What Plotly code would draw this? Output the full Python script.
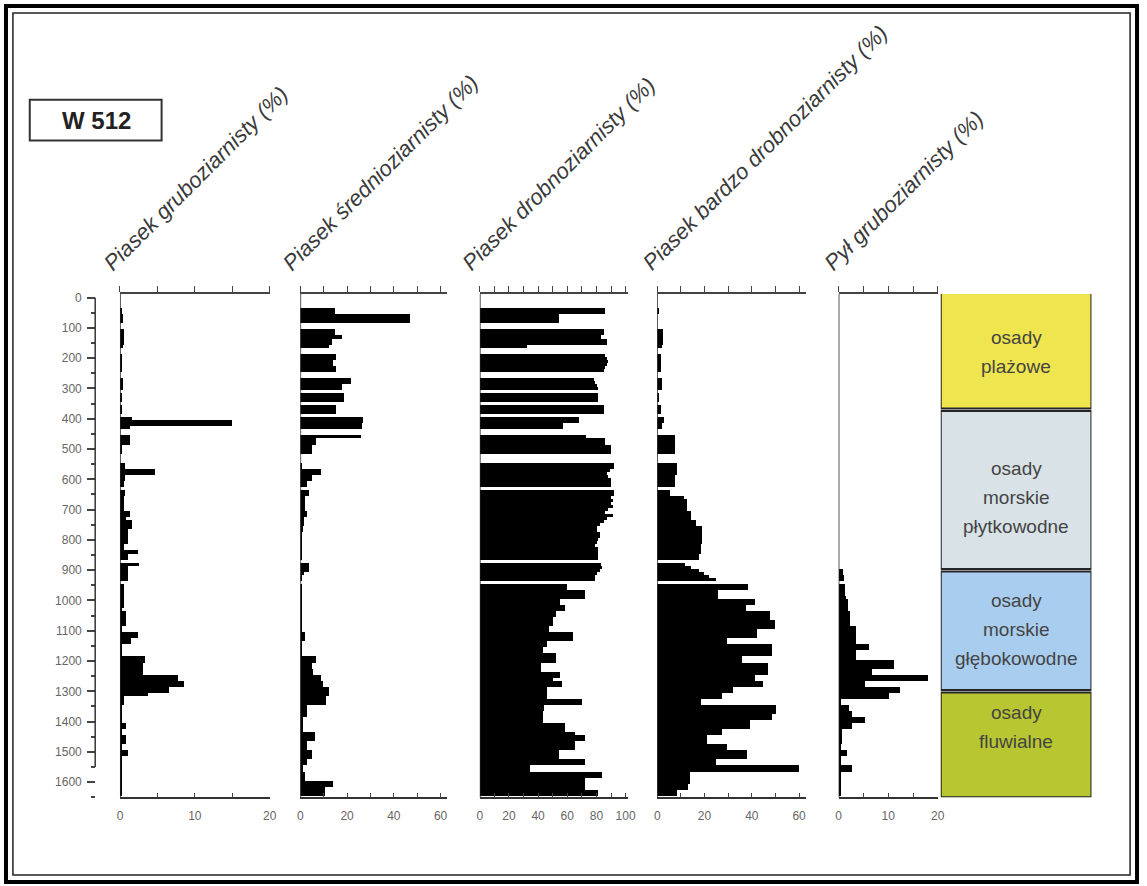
import plotly.graph_objects as go

W, H = 1147, 886

# Sample depths (cm) of the W 512 core; missing samples are simply absent
depth_cm = [
    40, 50, 60, 70, 80,
    110, 120, 130, 140, 150, 160,
    190, 200, 210, 220, 230, 240,
    270, 280, 290, 300,
    320, 330, 340,
    360, 370, 380,
    400, 410, 420, 430,
    460, 470, 480, 490, 500, 510,
    550, 560, 570, 580, 590, 600, 610, 620,
    640, 650,
    660, 670, 680, 690, 700, 710, 720, 730, 740, 750,
    760, 770, 780, 790, 800, 810, 820, 830, 840, 850, 860,
    880, 890, 900, 910, 920, 930,
    950, 960, 970, 980, 990, 1000, 1010, 1020, 1030, 1040,
    1050, 1060, 1070, 1080, 1090, 1100, 1110, 1120, 1130, 1140,
    1150, 1160, 1170, 1180, 1190, 1200, 1210, 1220, 1230, 1240,
    1250, 1260, 1270, 1280, 1290, 1300, 1310, 1320, 1330, 1340,
    1350, 1360, 1370, 1380, 1390, 1400, 1410, 1420, 1430, 1440,
    1450, 1460, 1470, 1480, 1490, 1500, 1510, 1520, 1530, 1540,
    1550, 1560, 1570, 1580, 1590, 1600, 1610, 1620, 1630, 1640,
]

# Piasek gruboziarnisty (%)
coarse_sand = [
    0.3, 0.3, 0.4, 0.4, 0.4,
    0.5, 0.5, 0.5, 0.5, 0.5, 0.4,
    0.3, 0.3, 0.3, 0.3, 0.3, 0.3,
    0.4, 0.4, 0.4, 0.4,
    0.3, 0.3, 0.3,
    0.2, 0.2, 0.2,
    1.6, 14.9, 14.9, 1.3,
    1.3, 1.3, 1.3, 0.2, 0.2, 0.2,
    0.7, 0.7, 4.7, 4.7, 0.7, 0.7, 0.5, 0.5,
    0.7, 0.7,
    0.5, 0.5, 0.5, 0.5, 0.5, 1.3, 1.3, 0.8, 1.6, 1.6,
    1.6, 1.1, 1.1, 1.1, 1.1, 1.1, 0.6, 0.6, 2.4, 1.1, 1.1,
    2.6, 1.1, 1.1, 1.1, 1.1, 1.1,
    0.5, 0.5, 0.6, 0.6, 0.6, 0.6, 0.6, 0.6, 0.3, 0.8,
    0.8, 0.8, 0.8, 0.8, 0.3, 0.3, 2.4, 2.4, 1.5, 1.5,
    0.3, 0.3, 0.3, 0.3, 3.3, 3.3, 3.1, 3.1, 3.1, 3.1,
    7.8, 7.8, 8.5, 8.5, 6.5, 6.5, 3.8, 0.6, 0.6, 0.6,
    0.3, 0.3, 0.3, 0.3, 0.3, 0.3, 0.8, 0.8, 0.3, 0.3,
    0.8, 0.8, 0.8, 0.3, 0.3, 1.1, 1.1, 0.3, 0.3, 0.3,
    0.3, 0.3, 0.2, 0.2, 0.2, 0.3, 0.3, 0.3, 0.3, 0.3,
]

# Piasek średnioziarnisty (%)
medium_sand = [
    15, 15, 47, 47, 47,
    15, 15, 18, 13.5, 13.5, 12.5,
    15.5, 15.5, 14, 14, 15.5, 15.5,
    22, 22, 18, 18,
    19, 19, 19,
    15.5, 15.5, 15.5,
    27, 27, 26.5, 26.5,
    26, 7, 7, 5, 5, 5,
    0.7, 0.7, 9, 9, 5, 5, 3, 3,
    4, 4,
    2, 2, 2, 2, 2, 2.8, 2.8, 1.6, 1.6, 1.6,
    1.2, 1.2, 1, 1, 1, 1, 1, 0.8, 0.8, 0.8, 0.8,
    3.9, 3.9, 3.9, 1.6, 1, 1,
    1, 1, 1, 1, 1, 1, 1, 1, 1, 1,
    1, 1, 1, 1, 1, 1, 2.1, 2.1, 2.1, 1,
    1, 1, 1, 1, 6.8, 6.8, 5, 5, 5.7, 5.7,
    9, 9, 10, 10, 12.4, 12.4, 12.4, 11.3, 11.3, 11.3,
    2.8, 2.8, 2.8, 2.8, 1.4, 1.4, 1.4, 1.4, 1.4, 6.3,
    6.3, 6.3, 2.8, 2.8, 2.8, 5, 5, 5, 2.8, 2.8,
    1.4, 1.4, 2.1, 2.1, 2.1, 14, 14, 10.5, 10.5, 10.5,
]

# Piasek drobnoziarnisty (%)
fine_sand = [
    86, 86, 54, 54, 54,
    85, 85, 83, 87, 87, 32,
    86, 87, 88, 87, 86, 85,
    78, 79, 80, 81,
    81, 81, 81,
    85, 85, 85,
    68, 68, 57, 57,
    73, 86, 86, 90, 90, 90,
    92, 92, 89, 87, 88, 90, 90, 90,
    92, 92,
    90, 91, 90, 91, 88, 86, 91, 87, 85, 82,
    80, 80, 82, 82, 81, 80, 79, 81, 81, 81, 81,
    83, 84, 82, 80, 79, 79,
    60, 60, 72, 72, 72, 55, 55, 58, 58, 52,
    52, 50, 50, 50, 47, 47, 64, 64, 64, 46,
    46, 43, 43, 52, 52, 52, 42, 42, 42, 55,
    55, 50, 56, 56, 46, 46, 46, 46, 70, 70,
    44, 44, 43, 43, 43, 43, 58, 58, 58, 65,
    72, 72, 65, 65, 65, 54, 54, 54, 72, 72,
    34, 34, 84, 84, 72, 72, 72, 72, 81, 81,
]

# Piasek bardzo drobnoziarnisty (%)
very_fine_sand = [
    0.7, 0.7, 0, 0, 0,
    2.4, 2.4, 2.4, 2.4, 2.4, 2.1,
    1.6, 1.6, 1.6, 1.6, 1.6, 1.6,
    2.1, 2.1, 2.1, 2.1,
    1, 1, 1,
    1.6, 1.6, 1.6,
    3.1, 3.1, 2.1, 2.1,
    7.6, 7.6, 7.6, 7.8, 7.8, 7.8,
    8.3, 8.3, 8.3, 8.3, 7.8, 7.8, 7.8, 7.8,
    5.7, 5.7,
    11.5, 12.5, 12.5, 12.5, 12.5, 14.5, 14.5, 14.5, 16.5, 16.5,
    19, 19, 19, 19, 19, 19, 18.5, 18.5, 18.5, 17.7, 17.7,
    12, 14.5, 17.7, 20, 22, 25,
    38.5, 38.5, 26, 26, 26, 41.5, 41.5, 37.5, 37.5, 48,
    48, 48, 50, 50, 50, 42.5, 42.5, 42.5, 29.5, 29.5,
    48.5, 48.5, 48.5, 48.5, 36, 36, 47, 47, 47, 47,
    41.5, 41.5, 45, 45, 32, 32, 27.5, 27.5, 18.5, 18.5,
    50.5, 50.5, 50.5, 48.5, 48.5, 39.5, 39.5, 39.5, 27.5, 27.5,
    21, 21, 21, 29.5, 29.5, 38, 38, 38, 25, 25,
    60, 60, 14, 14, 14, 14, 13, 13, 8.6, 8.6,
]

# Pył gruboziarnisty (%)
coarse_silt = [
    0, 0, 0, 0, 0,
    0, 0, 0, 0, 0, 0,
    0, 0, 0, 0, 0, 0,
    0, 0, 0, 0,
    0, 0, 0,
    0, 0, 0,
    0, 0, 0, 0,
    0, 0, 0, 0, 0, 0,
    0, 0, 0, 0, 0, 0, 0, 0,
    0, 0,
    0, 0, 0, 0, 0, 0, 0, 0, 0, 0,
    0, 0, 0, 0, 0, 0, 0, 0, 0, 0, 0,
    0, 0, 0.8, 0.8, 1, 1,
    1.2, 1.2, 1.3, 1.3, 1.5, 1.8, 1.8, 1.8, 1.8, 2.2,
    2.2, 2.2, 2.2, 2.2, 3.4, 3.4, 3.4, 3.4, 3.4, 3.4,
    6, 6, 3.4, 3.4, 3.4, 11, 11, 11, 6.7, 6.7,
    18, 18, 5.3, 5.3, 12.3, 12.3, 10, 10, 0.5, 0.5,
    2, 2, 2.7, 2.7, 5.3, 5.3, 2.7, 2.7, 0.7, 0.7,
    0.7, 0.7, 0.7, 0.5, 0.5, 1.7, 1.7, 0.5, 0.5, 0.5,
    2.7, 2.7, 0.5, 0.5, 0.5, 0.5, 0.5, 0.5, 0.5, 0.5,
]

panel_titles = [
    "Piasek gruboziarnisty (%)",
    "Piasek średnioziarnisty (%)",
    "Piasek drobnoziarnisty (%)",
    "Piasek bardzo drobnoziarnisty (%)",
    "Pył gruboziarnisty (%)",
]
panel_series = [coarse_sand, medium_sand, fine_sand, very_fine_sand, coarse_silt]
panel_max = [20, 62.8, 102, 62.9, 20]
panel_ticks = [
    [0, 5, 10, 15, 20],
    [0, 10, 20, 30, 40, 50, 60],
    [0, 10, 20, 30, 40, 50, 60, 70, 80, 90, 100],
    [0, 10, 20, 30, 40, 50, 60],
    [0, 5, 10, 15, 20],
]
panel_labels = [
    [0, 10, 20],
    [0, 20, 40, 60],
    [0, 20, 40, 60, 80, 100],
    [0, 20, 40, 60],
    [0, 10, 20],
]

depth_ticks = list(range(0, 1700, 100))

# Sedimentary units (cm)
unit_names = [
    ["osady", "plażowe"],
    ["osady", "morskie", "płytkowodne"],
    ["osady", "morskie", "głębokowodne"],
    ["osady", "fluwialne"],
]
unit_top = [0, 370, 900, 1300]
unit_bottom = [370, 900, 1300, 1650]
unit_text_depth = [178, 660, 1095, 1417]
unit_colors = ["#efe54f", "#d8e2e7", "#a9cdee", "#b7c631"]

# ---- page geometry (pixels) ----
panel_left = [118, 300, 481, 660, 843]
panel_right = [269, 448, 631, 810, 943]
litho_left, litho_right = 946, 1098
plot_top, plot_bottom = 292, 797
depth_axis_x = 93
title_start = [108, 289, 470, 652, 835]
FONT = "Liberation Sans, Arial, sans-serif"
INK = "#2a2a2a"


def fx(p):
    return p / W


def fy(p):
    return 1 - p / H


fig = go.Figure()
layout = dict(
    width=W, height=H,
    margin=dict(l=0, r=0, t=0, b=0),
    paper_bgcolor="white", plot_bgcolor="white",
    showlegend=False,
    font=dict(family=FONT, color=INK),
    yaxis=dict(
        domain=[fy(plot_bottom), fy(plot_top)],
        range=[1650, -12],
        anchor="free", position=fx(depth_axis_x),
        tickvals=depth_ticks, ticks="outside", ticklen=8, tickwidth=1.5,
        tickcolor="#444", ticklabelstandoff=3,
        minor=dict(dtick=50, tick0=0, ticks="outside", ticklen=4, tickcolor="#444"),
        tickfont=dict(size=12, color="#666"),
        showgrid=False, zeroline=False, showline=False,
    ),
)

shapes = []
annotations = []

for i, (vals, title) in enumerate(zip(panel_series, panel_titles)):
    n = i + 1
    xa = "x" if n == 1 else f"x{n}"
    top_n = n + 5
    fig.add_trace(go.Bar(
        x=vals, y=depth_cm, orientation="h", width=10,
        marker=dict(color="black", line=dict(width=0)),
        xaxis=xa, yaxis="y", hoverinfo="x+y",
    ))
    # invisible trace so the mirrored top axis gets drawn
    fig.add_trace(go.Scatter(x=[0], y=[0], mode="markers", opacity=0,
                             xaxis=f"x{top_n}", yaxis="y", hoverinfo="skip"))
    ticktext = [str(t) if t in panel_labels[i] else "" for t in panel_ticks[i]]
    layout["xaxis" if n == 1 else f"xaxis{n}"] = dict(
        domain=[fx(panel_left[i]), fx(panel_right[i])],
        range=[0, panel_max[i]], anchor="y", side="bottom",
        tickvals=panel_ticks[i], ticktext=ticktext,
        ticks="inside", ticklen=5, tickwidth=1.2, tickcolor="#444",
        ticklabelstandoff=7,
        showline=True, linecolor="#333", linewidth=1.5,
        tickfont=dict(size=12, color="#666"),
        showgrid=False, zeroline=False, fixedrange=True,
    )
    layout[f"xaxis{top_n}"] = dict(
        overlaying=xa, range=[0, panel_max[i]], anchor="y", side="top",
        tickvals=panel_ticks[i], ticks="outside", ticklen=6, tickwidth=1.2,
        tickcolor="#444", showticklabels=False,
        showline=True, linecolor="#444", linewidth=1.5,
        showgrid=False, zeroline=False,
    )
    # bar baseline
    shapes.append(dict(type="line", xref=xa, yref="y domain",
                       x0=0, x1=0, y0=0, y1=1,
                       line=dict(color="#222", width=1.5)))
    annotations.append(dict(
        text=title, textangle=-45, showarrow=False,
        xref="paper", yref="paper",
        x=fx(title_start[i] - 14), y=fy(276),
        xanchor="left", yanchor="bottom",
        font=dict(size=22, family=FONT, color="#3a3a3a", style="italic"),
    ))

# lithology column
layout["xaxis11"] = dict(domain=[fx(litho_left), fx(litho_right)], range=[0, 1],
                         anchor="y", visible=False, fixedrange=True)
fig.add_trace(go.Scatter(x=[0.5], y=[0], mode="markers", opacity=0,
                         xaxis="x11", yaxis="y", hoverinfo="skip"))
for k in range(len(unit_names)):
    y0 = unit_top[k] + 4 if unit_top[k] > 0 else -18
    y1 = unit_bottom[k] - 4 if k < len(unit_names) - 1 else unit_bottom[k]
    shapes.append(dict(type="rect", xref="x11", yref="y",
                       x0=0, x1=1, y0=y0, y1=y1,
                       fillcolor=unit_colors[k], layer="below",
                       line=dict(color="#262626", width=2)))
    lines = unit_names[k]
    for j, word in enumerate(lines):
        annotations.append(dict(
            text=word, showarrow=False, xref="x11", yref="y",
            x=0.5, y=unit_text_depth[k],
            yshift=-(j - (len(lines) - 1) / 2) * 29,
            font=dict(size=19, family=FONT, color="#444"),
        ))

# depth axis line
shapes.append(dict(type="line", xref="paper", yref="y",
                   x0=fx(depth_axis_x), x1=fx(depth_axis_x), y0=0, y1=1550,
                   line=dict(color="#333", width=1.5)))

# borehole label box
shapes.append(dict(type="rect", xref="paper", yref="paper",
                   x0=fx(27), x1=fx(160), y0=fy(138), y1=fy(97),
                   line=dict(color="#333", width=2)))
annotations.append(dict(text="<b>W 512</b>", showarrow=False,
                        xref="paper", yref="paper", x=fx(94), y=fy(118),
                        xanchor="center", yanchor="middle",
                        font=dict(size=24, family=FONT, color="#222")))

# double frame round the figure
shapes.append(dict(type="rect", xref="paper", yref="paper",
                   x0=fx(3), x1=fx(W - 3), y0=fy(H - 4), y1=fy(3),
                   line=dict(color="black", width=4)))
shapes.append(dict(type="rect", xref="paper", yref="paper",
                   x0=fx(10), x1=fx(W - 10), y0=fy(H - 11), y1=fy(10),
                   line=dict(color="#222", width=1.5)))

layout["shapes"] = shapes
layout["annotations"] = annotations
layout["bargap"] = 0
fig.update_layout(**layout)

fig.write_html("out.html")
